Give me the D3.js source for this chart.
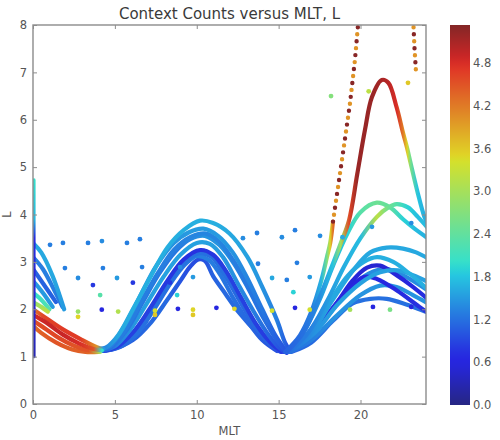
<!DOCTYPE html>
<html><head><meta charset="utf-8">
<script src="https://cdn.jsdelivr.net/npm/d3@7"></script>
<style>
body{margin:0;background:#fff;}
text{font-family:"DejaVu Sans",sans-serif;}
</style></head>
<body><svg id="c" width="500" height="440"></svg>
<script>
// ---------- data ----------
const titleText = "Context Counts versus MLT, L";
const xLabel = "MLT", yLabel = "L";
const xTicks = [0, 5, 10, 15, 20];
const yTicks = [0, 1, 2, 3, 4, 5, 6, 7, 8];
const cbTicks = [0.0, 0.6, 1.2, 1.8, 2.4, 3.0, 3.6, 4.2, 4.8];
const countMax = 5.333;

// trajectories: [MLT, L, count]
const midA = [[3.9,1.15,1.2],[4.5,1.2,1.4],[5.2,1.45,1.6],[6.1,2.0,1.65],[7.15,2.67,1.65],[8.2,3.3,1.65],[9.2,3.67,1.65],[10.2,3.87,1.65],[11.0,3.82,1.65],[12.0,3.6,1.6],[13.1,3.1,1.55],[14.0,2.47,1.45],[14.9,1.77,1.3],[15.4,1.29,1.1],[15.7,1.12,0.9]];
const midG = [[3.95,1.14,1.1],[4.7,1.22,1.3],[5.5,1.6,1.4],[6.5,2.25,1.45],[7.5,2.9,1.45],[8.6,3.4,1.45],[9.5,3.62,1.5],[10.4,3.7,1.5],[11.3,3.55,1.5],[12.2,3.2,1.45],[13.1,2.65,1.35],[14.0,2.0,1.25],[14.8,1.45,1.1],[15.4,1.15,1.0]];
const midH = [[3.95,1.13,1.1],[4.8,1.2,1.2],[5.6,1.55,1.3],[6.6,2.15,1.3],[7.6,2.75,1.3],[8.6,3.25,1.3],[9.6,3.52,1.35],[10.5,3.6,1.35],[11.3,3.45,1.35],[12.2,3.05,1.3],[13.1,2.5,1.25],[14.0,1.9,1.2],[14.8,1.4,1.1],[15.4,1.12,1.0]];
const midB = [[4.0,1.13,1.1],[4.8,1.22,1.25],[5.7,1.55,1.25],[6.7,2.15,1.25],[7.7,2.75,1.25],[8.7,3.22,1.25],[9.6,3.48,1.35],[10.5,3.55,1.45],[11.4,3.35,1.45],[12.3,2.95,1.35],[13.2,2.4,1.25],[14.1,1.8,1.2],[14.9,1.35,1.1],[15.5,1.1,0.9]];
const midC = [[4.0,1.12,1.1],[5.0,1.22,1.3],[6.0,1.6,1.45],[7.0,2.15,1.55],[8.0,2.7,1.55],[9.0,3.15,1.55],[10.0,3.4,1.55],[10.8,3.38,1.55],[11.6,3.1,1.5],[12.5,2.55,1.4],[13.4,2.0,1.3],[14.3,1.5,1.15],[15.0,1.2,1.0],[15.5,1.08,0.9]];
const midD = [[4.1,1.12,0.8],[5.1,1.2,0.85],[6.2,1.55,0.85],[7.2,2.05,0.85],[8.2,2.6,0.8],[9.2,3.05,0.75],[10.2,3.25,0.75],[11.0,3.15,0.8],[11.8,2.8,0.85],[12.7,2.25,0.85],[13.6,1.7,0.85],[14.5,1.3,0.8],[15.2,1.1,0.8]];
const midI = [[4.1,1.12,1.0],[5.2,1.2,1.15],[6.3,1.52,1.2],[7.3,2.02,1.2],[8.3,2.57,1.2],[9.3,3.0,1.2],[10.1,3.18,1.2],[10.9,3.1,1.2],[11.6,2.78,1.2],[12.5,2.25,1.15],[13.4,1.72,1.15],[14.3,1.32,1.1],[15.1,1.1,0.95]];
const midE = [[4.2,1.12,1.0],[5.3,1.2,1.15],[6.4,1.5,1.2],[7.4,2.0,1.2],[8.4,2.55,1.2],[9.3,2.95,1.25],[10.0,3.12,1.3],[10.7,3.05,1.3],[11.4,2.75,1.25],[12.2,2.25,1.2],[13.1,1.75,1.15],[14.0,1.35,1.05],[14.9,1.12,0.95]];
const midF = [[4.0,1.12,0.9],[4.7,1.14,1.0],[6.1,1.35,1.1],[7.2,1.72,1.15],[8.2,2.2,1.15],[9.0,2.6,1.0],[9.6,2.9,0.95],[10.1,3.05,0.95],[10.5,3.02,1.0],[11.0,2.7,1.1],[11.6,2.4,1.15],[12.6,1.92,1.15],[13.7,1.5,1.05],[14.7,1.2,0.95],[15.3,1.1,0.9]];

const redA = [[0,2.0,4.2],[0.6,1.86,4.6],[1.8,1.58,4.7],[2.9,1.37,4.7],[3.9,1.2,4.0],[4.3,1.16,1.5]];
const redB = [[0,1.88,4.8],[0.8,1.72,4.9],[1.8,1.47,4.9],[2.8,1.28,4.8],[3.7,1.16,4.5],[4.2,1.13,2.0]];
const redC = [[0,1.76,4.5],[0.8,1.58,4.6],[1.6,1.39,4.6],[2.5,1.23,4.5],[3.4,1.13,4.5],[4.1,1.1,3.0]];
const redD = [[0,1.65,4.3],[0.5,1.5,4.4],[1.4,1.3,4.5],[2.4,1.15,4.4],[3.2,1.1,4.4],[4.0,1.1,4.0]];

const leftA = [[0,3.4,1.6],[0.5,3.2,1.6],[1.2,2.7,1.6],[1.9,2.0,1.5]];
const leftB = [[0,3.1,1.3],[0.6,2.85,1.3],[1.3,2.4,1.3],[1.8,2.05,1.2]];
const leftC = [[0,2.85,1.1],[0.7,2.5,1.1],[1.4,2.15,1.1]];
const leftD = [[0,2.6,1.5],[0.6,2.35,1.5],[1.2,2.05,1.5]];
const leftE = [[0,2.35,2.0],[0.5,2.2,2.1],[1.0,2.0,2.3]];
const leftF = [[0,2.15,2.9],[0.5,2.05,3.0],[0.9,1.95,3.2]];
const edge0 = [[0.06,1.0,0.3],[0.06,2.0,0.5],[0.06,3.5,0.7],[0.06,3.9,1.7],[0.06,4.73,2.0]];

const rightA = [[15.4,1.1,1.1],[16.3,1.45,1.2],[17.0,1.95,1.3],[17.6,2.6,1.7],[17.95,3.1,2.6],[18.15,3.4,3.5],[18.32,3.85,4.3]];
const rightB = [[15.5,1.1,1.1],[16.5,1.5,1.2],[17.5,2.25,1.4],[18.3,2.95,1.8],[18.8,3.4,3.0],[19.3,3.88,4.6],[19.8,4.85,5.2],[20.27,5.78,5.2],[20.7,6.48,5.2],[21.3,6.84,5.1],[21.7,6.78,5.0],[22.2,6.27,4.8],[22.6,5.72,4.2],[22.85,5.4,3.5],[23.05,5.1,2.6],[23.5,4.45,1.8],[23.9,3.95,1.65],[24.1,3.8,1.65]];
const rightC1 = [[15.5,1.1,1.2],[16.5,1.5,1.3],[17.5,2.2,1.5],[18.3,2.9,1.65],[19.2,3.6,1.9],[20.0,4.05,2.3],[21.0,4.25,2.5],[21.8,4.15,2.4],[22.6,3.9,1.9],[23.3,3.7,1.75],[24.1,3.5,1.65]];
const rightC2 = [[15.6,1.1,1.2],[16.8,1.5,1.3],[18.0,2.2,1.5],[19.0,2.9,1.65],[20.0,3.5,1.75],[21.0,3.95,3.2],[21.7,4.15,2.5],[22.2,4.22,2.3],[22.9,4.15,1.9],[23.5,3.95,1.75],[24.1,3.72,1.75]];
const rightC3 = [[15.6,1.1,1.2],[17.0,1.5,1.4],[18.3,2.2,1.6],[19.5,2.8,1.6],[20.6,3.2,1.6],[21.6,3.3,1.6],[22.6,3.28,1.6],[23.4,3.2,1.6],[24.1,3.08,1.6]];
const rightC4 = [[15.5,1.1,1.2],[16.8,1.5,1.4],[18.0,2.1,1.6],[19.2,2.7,1.65],[20.2,3.0,1.65],[21.0,3.1,1.65],[22.0,3.0,1.65],[23.0,2.75,1.65],[24.1,2.42,1.65]];
const rightC5 = [[15.6,1.1,0.9],[17.0,1.45,0.8],[18.3,2.0,0.7],[19.5,2.6,0.55],[20.4,2.88,0.5],[21.2,2.92,0.5],[22.2,2.72,0.55],[23.1,2.5,0.65],[24.1,2.22,0.75]];
const rightC6 = [[15.5,1.1,0.9],[16.8,1.4,0.85],[18.0,1.9,0.75],[19.2,2.4,0.7],[20.2,2.68,0.65],[21.0,2.64,0.65],[22.2,2.4,0.7],[23.6,2.05,0.75],[24.1,1.93,0.75]];
const rightC7 = [[15.7,1.1,1.2],[17.0,1.35,1.3],[18.5,1.85,1.45],[20.0,2.3,1.45],[21.2,2.5,1.45],[22.2,2.47,1.45],[23.2,2.3,1.45],[24.1,2.13,1.45]];
const rightC8 = [[15.8,1.1,1.1],[17.0,1.3,1.15],[18.3,1.75,1.2],[19.5,2.12,1.2],[20.6,2.22,1.2],[21.6,2.22,1.2],[22.8,2.1,1.2],[24.1,1.93,1.2]];
const rightC9 = [[15.7,1.1,1.2],[17.2,1.5,1.45],[18.6,2.1,1.55],[20.0,2.55,1.55],[21.2,2.78,1.55],[22.3,2.82,1.55],[23.2,2.72,1.55],[24.1,2.58,1.55]];
const rightC10 = [[15.6,1.1,1.1],[16.9,1.4,1.2],[18.2,1.95,1.3],[19.4,2.45,1.4],[20.5,2.75,1.4],[21.6,2.85,1.4],[22.7,2.7,1.4],[24.1,2.4,1.4]];

const trajectories = [midF, midE, midI, midD, midC, midB, midH, midG, midA,
  redD, redC, redA, redB, leftC, leftB, leftD, leftA, leftE, leftF, edge0,
  rightC8, rightC7, rightC10, rightC6, rightC5, rightC9, rightC4, rightC3, rightC1, rightC2, rightA, rightB];

// dotted high-count tracks [MLT, L]
const dottedA = [[18.32,3.85],[18.93,5.3],[19.36,6.35],[19.66,7.26],[19.9,8.2]];
const dottedEdge = [[23.22,8.1],[23.3,7.5],[23.4,6.95]];
const dottedCounts = [5.3, 4.0];

// scattered points [MLT, L, count]
const scatterPts = [
 [1.04,3.36,1.3],[1.83,3.40,1.3],[3.36,3.40,1.3],[4.21,3.44,1.4],[5.74,3.40,1.3],[6.53,3.48,1.3],[12.82,3.50,1.4],[13.68,3.61,1.3],[15.2,3.52,1.4],[16.0,3.67,1.3],[17.53,3.55,1.4],[18.9,3.52,1.6],[20.7,3.74,1.5],[23.1,3.82,1.4],
 [1.95,2.87,1.3],[4.27,2.87,1.3],[6.66,2.89,1.3],[8.98,2.89,1.4],[13.74,2.96,1.3],[16.12,2.98,1.3],
 [2.75,2.66,1.4],[5.13,2.66,1.5],[9.77,2.68,1.5],[14.6,2.66,1.6],[15.5,2.62,1.3],[16.9,2.68,1.5],
 [3.66,2.51,0.8],[6.1,2.56,0.8],[8.37,2.56,0.8],
 [4.1,2.30,2.3],[8.8,2.30,1.9],[15.9,2.36,1.9],
 [2.75,1.95,2.9],[4.2,1.99,0.6],[5.2,1.95,3.1],[7.45,1.97,3.4],[8.85,2.01,0.6],[9.77,1.99,3.5],[11.2,2.03,0.6],[12.3,2.01,3.5],[14.6,1.97,3.4],[16.0,2.03,0.6],[16.9,1.99,3.4],[19.36,1.99,3.0],[20.76,2.05,0.6],[21.8,1.99,2.6],[23.1,2.05,0.6],
 [2.75,1.84,3.5],[7.45,1.88,3.6],[9.77,1.88,3.6],
 [18.2,6.5,2.7],[20.5,6.6,3.2],[22.9,6.78,3.6]
];

// ---------- layout ----------
const svg = d3.select("#c");
const X0 = 33, X1 = 426, Y0 = 25, Y1 = 404;
const x = d3.scaleLinear().domain([0, 24]).range([X0, X1]);
const y = d3.scaleLinear().domain([0, 8]).range([Y1, Y0]);

// jet colormap through d3 scales, muted like the reference photo
const rS = d3.scaleLinear().domain([0,0.35,0.66,0.89,1]).range([0,0,1,1,0.5]).clamp(true);
const gS = d3.scaleLinear().domain([0,0.125,0.375,0.64,0.91,1]).range([0,0,1,1,0,0]).clamp(true);
const bS = d3.scaleLinear().domain([0,0.11,0.34,0.65,1]).range([0.5,1,1,0,0]).clamp(true);
const tS = d3.scaleLinear().domain([0, countMax]).range([0, 1]).clamp(true);
function cmap(v){
  const t = tS(v);
  const c = d3.rgb(rS(t)*255, gS(t)*255, bS(t)*255);
  return d3.interpolateRgb(c, "#8c8c8c")(0.27);
}

const defs = svg.append("defs");
defs.append("clipPath").attr("id","clip").append("rect")
  .attr("x",X0).attr("y",Y0).attr("width",X1-X0).attr("height",Y1-Y0);
defs.append("filter").attr("id","soft").append("feGaussianBlur").attr("stdDeviation",0.45);

const plot = svg.append("g").attr("clip-path","url(#clip)").append("g").attr("filter","url(#soft)");
const line = d3.line().x(d=>x(d[0])).y(d=>y(d[1])).curve(d3.curveCatmullRom.alpha(0.5));

trajectories.forEach((tr,i)=>{
  const px = tr.map(d=>x(d[0])), py = tr.map(d=>y(d[1]));
  const dx = Math.abs(px[px.length-1]-px[0]);
  const useX = dx > 15;
  const pos = useX ? px : py;
  const s = pos[0], e = pos[pos.length-1];
  const g = defs.append("linearGradient").attr("id","tg"+i).attr("gradientUnits","userSpaceOnUse")
    .attr("x1", useX ? s : px[0]).attr("x2", useX ? e : px[0])
    .attr("y1", useX ? 0 : s).attr("y2", useX ? 0 : e);
  tr.forEach((d,j)=>{
    g.append("stop").attr("offset", Math.max(0,Math.min(1,(pos[j]-s)/(e-s)))).attr("stop-color", cmap(d[2]));
  });
  plot.append("path").attr("d", line(tr)).attr("fill","none")
    .attr("stroke","url(#tg"+i+")").attr("stroke-width", tr===edge0 ? 3.2 : 4.2).attr("stroke-linecap","round");
});

// dotted tracks
const lineL = d3.line().x(d=>x(d[0])).y(d=>y(d[1]));
[dottedA, dottedEdge].forEach(tr=>{
  dottedCounts.forEach((c,k)=>{
    plot.append("path").attr("d", lineL(tr)).attr("fill","none")
      .attr("stroke", cmap(c)).attr("stroke-width",4.4).attr("stroke-linecap","round")
      .attr("stroke-dasharray","0 14").attr("stroke-dashoffset", -7*k);
  });
});

// scatter points
plot.selectAll("circle.s").data(scatterPts).join("circle").attr("class","s")
  .attr("cx",d=>x(d[0])).attr("cy",d=>y(d[1])).attr("r",2.4).attr("fill",d=>cmap(d[2]));

// frame & ticks
const axisCol = "#8c8c8c", textCol = "#555555";
svg.append("rect").attr("x",X0).attr("y",Y0).attr("width",X1-X0).attr("height",Y1-Y0)
  .attr("fill","none").attr("stroke",axisCol).attr("stroke-width",1.4);
const xb = d3.axisBottom(x).tickValues(xTicks).tickSize(-4).tickPadding(7).tickFormat(d3.format("d"));
const xt = d3.axisTop(x).tickValues(xTicks).tickSize(-4).tickFormat("");
const yl = d3.axisLeft(y).tickValues(yTicks).tickSize(-4).tickPadding(6).tickFormat(d3.format("d"));
const yr = d3.axisRight(y).tickValues(yTicks).tickSize(-4).tickFormat("");
[[xb,`translate(0,${Y1})`],[xt,`translate(0,${Y0})`],[yl,`translate(${X0},0)`],[yr,`translate(${X1},0)`]].forEach(([a,t])=>{
  const g = svg.append("g").attr("transform",t).call(a);
  g.select(".domain").remove();
  g.selectAll("line").attr("stroke",axisCol).attr("stroke-width",1);
  g.selectAll("text").attr("fill",textCol).style("font-size","11.5px").style("font-family","DejaVu Sans");
});

svg.append("text").attr("x",(X0+X1)/2).attr("y",19).attr("text-anchor","middle")
  .attr("fill","#3a3a3a").style("font-size","15px").text(titleText);
svg.append("text").attr("x",(X0+X1)/2).attr("y",435).attr("text-anchor","middle")
  .attr("fill",textCol).style("font-size","11.5px").text(xLabel);
svg.append("text").attr("transform",`translate(11,${y(4)}) rotate(-90)`).attr("text-anchor","middle")
  .attr("fill",textCol).style("font-size","11.5px").text(yLabel);

// colorbar
const CB0 = 450, CBW = 20;
const cy = d3.scaleLinear().domain([0, countMax]).range([405, 25]);
const cg = defs.append("linearGradient").attr("id","cbg").attr("x1",0).attr("x2",0).attr("y1",1).attr("y2",0);
d3.range(0, 1.0001, 0.02).forEach(t=>cg.append("stop").attr("offset",t).attr("stop-color",cmap(t*countMax)));
svg.append("rect").attr("x",CB0).attr("y",25).attr("width",CBW).attr("height",380).attr("fill","url(#cbg)");
const cba = d3.axisRight(cy).tickValues(cbTicks).tickSize(0).tickPadding(3).tickFormat(d3.format(".1f"));
const cbg = svg.append("g").attr("transform",`translate(${CB0+CBW},0)`).call(cba);
cbg.select(".domain").remove();
cbg.selectAll("text").attr("fill",textCol).style("font-size","11.5px").style("font-family","DejaVu Sans");
</script></body></html>
